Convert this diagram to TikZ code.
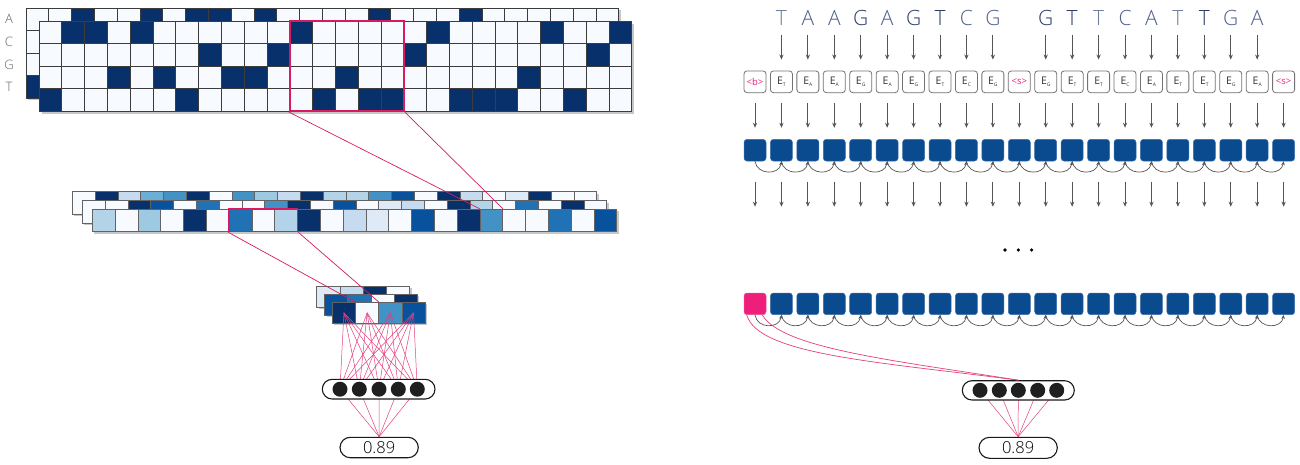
\documentclass[tikz,border=0pt]{standalone}
\usepackage{fontspec}
\setmainfont{Open Sans}
\newfontfamily\lightfont{Open Sans Light}
\usetikzlibrary{arrows.meta}
\definecolor{cN}{HTML}{08306B}
\definecolor{cD}{HTML}{08519C}
\definecolor{cM}{HTML}{2171B5}
\definecolor{cm}{HTML}{4292C6}
\definecolor{cl}{HTML}{6BAED6}
\definecolor{cL2}{HTML}{9ECAE1}
\definecolor{cLb}{HTML}{B3D3E8}
\definecolor{cL}{HTML}{C6DBEF}
\definecolor{cV}{HTML}{DEEBF7}
\definecolor{cW}{HTML}{F7FBFF}
\definecolor{redbox}{HTML}{D81B60}
\definecolor{pinkl}{HTML}{E4407F}
\definecolor{pinkbox}{HTML}{EE1F7A}
\definecolor{hblue}{HTML}{0A4A8F}
\definecolor{hborder}{HTML}{3D6FAA}
\definecolor{arrgray}{HTML}{555555}
\definecolor{lL}{HTML}{6F7D9C}
\definecolor{lM}{HTML}{52618C}
\definecolor{lD}{HTML}{2D3C68}
\definecolor{gridl}{HTML}{3C3C3C}
\newcommand\tokE[1]{{\fontsize{10.5}{10.5}\selectfont E}\raisebox{-2pt}{\fontsize{5}{5}\selectfont #1}}
\tikzset{
  shadowc/.style={fill=black!22},
  cellline/.style={draw=gridl!80, line width=0.6},
  arr/.style={draw=arrgray, line width=0.8, -{Stealth[length=5pt,width=4.2pt]}},
  arcarr/.style={draw=arrgray, line width=0.7, -{Stealth[length=4pt,width=3.6pt]}},
  tokbox/.style={draw=black!55, line width=0.8, fill=white, rounded corners=3pt, minimum width=22pt, minimum height=21.7pt, inner sep=0pt},
  hbox/.style={draw=hborder, line width=0.5, fill=hblue, rounded corners=3pt, minimum width=22pt, minimum height=21.7pt, inner sep=0pt},
  letter/.style={anchor=base, inner sep=0pt, font=\lightfont\fontsize{21}{21}\selectfont},
  capsule/.style={draw=black!90, line width=1.1, fill=white, inner sep=0pt},
  neuron/.style={circle, fill=black!88, minimum size=15pt, inner sep=0pt},
  pinkthin/.style={draw=pinkl, line width=0.5},
  redline/.style={draw=redbox, line width=0.7},
}
\begin{document}
\begin{tikzpicture}[x=1pt,y=-1pt]
\useasboundingbox (0,0) rectangle (1300,464);
\fill[white] (0,0) rectangle (1300,464);

% ---------- big one-hot grid: back layer ----------
\fill[shadowc] (28,10) rectangle ++(592.8,90);
\fill[cW] (26,8) rectangle ++(592.8,90);
\foreach \r/\c in {0/2,0/5,0/7,0/8,0/10,0/15,0/19,3/0}
  \fill[cN] ({26+\c*22.8},{8+\r*22.5}) rectangle ++(22.8,22.5);
\foreach \i in {0,...,26} \draw[gridl, line width=0.7] ({26+\i*22.8},8) -- ++(0,90);
\foreach \j in {0,...,4} \draw[gridl, line width=0.7] (26,{8+\j*22.5}) -- ++(592.8,0);
% front layer
\fill[shadowc] (41.5,23.5) rectangle ++(592.8,90);
\fill[cW] (39,21) rectangle ++(592.8,90);
\foreach \r/\c in {0/1,0/2,0/4,0/11,0/17,0/22,0/25,1/7,1/10,1/16,1/24,2/3,2/5,2/8,2/9,2/13,2/21,3/0,3/6,3/12,3/14,3/15,3/18,3/19,3/20,3/23}
  \fill[cN] ({39+\c*22.8},{21+\r*22.5}) rectangle ++(22.8,22.5);
\foreach \i in {0,...,26} \draw[gridl, line width=0.8] ({39+\i*22.8},21) -- ++(0,90);
\foreach \j in {0,...,4} \draw[gridl, line width=0.8] (39,{21+\j*22.5}) -- ++(592.8,0);
% row labels
\foreach \t/\yy [count=\k] in {A/19,C/42,G/64.5,T/87}
  \node[text=black!60, font=\lightfont\fontsize{13}{13}\selectfont, inner sep=0pt] (rl\k) at (9,\yy) {\t};
% red window
\node[draw=redbox, line width=2, minimum width=114pt, minimum height=90pt, inner sep=0pt] (win1) at (346.8,66) {};

% ---------- middle layer (3 rows) ----------
\fill[shadowc] (74.3,193.7) rectangle ++(524.4,22.5);
\foreach \c [count=\k from 0] in {cW,cN,cL,cl,cm,cN,cW,cm,cL2,cL,cN,cLb,cLb,cm,cD,cW,cN,cL,cW,cV,cN,cW,cW}
  \draw[cellline, fill=\c] ({72.3+\k*22.8},191.7) rectangle ++(22.8,22.5);
\fill[shadowc] (84.3,202.5) rectangle ++(524.4,22.5);
\foreach \c [count=\k from 0] in {cW,cW,cN,cD,cW,cM,cW,cW,cm,cN,cW,cD,cW,cV,cL,cW,cN,cLb,cW,cM,cW,cN,cW}
  \draw[cellline, fill=\c] ({82.3+\k*22.8},200.5) rectangle ++(22.8,22.5);
\fill[shadowc] (94.3,211) rectangle ++(524.4,22.5);
\foreach \c [count=\k from 0] in {cLb,cW,cL2,cW,cN,cW,cM,cW,cLb,cN,cW,cL,cV,cW,cD,cW,cN,cm,cW,cW,cM,cW,cD}
  \draw[cellline, fill=\c] ({92.3+\k*22.8},209) rectangle ++(22.8,22.5);
\node[inner sep=0pt, minimum width=22.8pt, minimum height=22.5pt] (tgt1) at ({92.3+17.5*22.8},220.25) {};
\draw[redline] (win1.south west) -- (tgt1.north west);
\draw[redline] (win1.south east) -- (tgt1.north east);
\node[draw=redbox, line width=1.6, minimum width=68.4pt, minimum height=22.5pt, inner sep=0pt] (win2) at (263.3,220.25) {};

% ---------- small layer ----------
\fill[shadowc] (318.7,288) rectangle ++(92.8,21);
\foreach \c [count=\k from 0] in {cV,cL,cN,cW}
  \draw[cellline, fill=\c] ({316.7+\k*23.2},286) rectangle ++(23.2,21);
\fill[shadowc] (326.5,296) rectangle ++(92.8,21);
\foreach \c [count=\k from 0] in {cD,cM,cW,cN}
  \draw[cellline, fill=\c] ({324.5+\k*23.2},294) rectangle ++(23.2,21);
\fill[shadowc] (334.3,304.3) rectangle ++(92.8,21);
\foreach \c [count=\k from 0] in {cN,cW,cm,cD}
  \node[draw=gridl!80, line width=0.6, fill=\c, inner sep=0pt, minimum width=23.2pt, minimum height=21pt] (s\k) at ({332.3+(\k+0.5)*23.2},312.8) {};
\node[inner sep=0pt, minimum width=23.2pt, minimum height=21pt] (tgt2) at ({332.3+1.5*23.2},312.8) {};
\draw[redline] (win2.south west) -- (tgt2.north west);
\draw[redline] (win2.south east) -- (tgt2.north east);

% ---------- left dense layer ----------
\foreach \xx [count=\j] in {340,359.3,379,398.3,417.3}
  \coordinate (p1-\j) at (\xx,389.2);
\node[capsule, minimum width=78.3pt, minimum height=20.4pt, rounded corners=10.2pt, font=\lightfont\fontsize{16.5}{16.5}\selectfont] (out1) at (379.15,447.5) {0.89};
\foreach \k in {0,...,3}
  \foreach \j in {1,...,5}
    \draw[pinkthin] (s\k.center) -- (p1-\j);
\foreach \j in {1,...,5}
  \draw[pinkthin] (p1-\j) -- (out1.north);
\node[capsule, minimum width=112.7pt, minimum height=19.7pt, rounded corners=9.85pt] (cap1) at (378.65,389.15) {};
\foreach \j in {1,...,5}
  \node[neuron] (n1-\j) at (p1-\j) {};

% ---------- right: sequence ----------
\foreach \t/\i/\lc in {T/1/lL,A/2/lM,A/3/lM,G/4/lD,A/5/lM,G/6/lD,T/7/lD,C/8/lM,G/9/lM,G/11/lD,T/12/lD,T/13/lL,C/14/lM,A/15/lM,T/16/lL,T/17/lD,G/18/lM,A/19/lM}{
  \node[letter, text=\lc] (l\i) at ({755+\i*26.43},25) {\t};
  \node[tokbox, text=black!80] (tok\i) at ({755+\i*26.43},81.8) {\tokE{\t}};
  \draw[arr, shorten <=10pt, shorten >=11pt] (l\i.base) -- (tok\i.north);
}
\foreach \i/\t in {0/b,10/s,20/s}
  \node[tokbox, text=pinkbox, font=\fontsize{9.5}{9.5}\selectfont] (tok\i) at ({755+\i*26.43},81.8) {<\t>};
\foreach \i in {0,...,20}{
  \node[hbox] (h\i) at ({755+\i*26.43},150.2) {};
  \draw[arr, shorten <=10.35pt, shorten >=11.35pt] (tok\i.south) -- (h\i.north);
  \coordinate (d\i) at ({755+\i*26.43},206.7);
  \draw[arr, shorten <=20.6pt] (h\i.south) -- (d\i);
}
\foreach \i [evaluate=\i as \j using int(\i+1)] in {0,...,19}
  \draw[arcarr] (h\i.south) .. controls +(2,14) and +(-2,14) .. (h\j.south);

% dots
\foreach \xx [count=\k] in {1005,1018.3,1031.6}
  \fill[black] (\xx,250) circle (1.8) coordinate (dot\k);

% bottom row
\node[hbox, fill=pinkbox, draw=pinkbox!80!white] (g0) at (755,303.85) {};
\foreach \i in {1,...,20}
  \node[hbox] (g\i) at ({755+\i*26.43},303.85) {};
\foreach \i [evaluate=\i as \j using int(\i+1)] in {0,...,19}
  \draw[arcarr] (g\i.south) .. controls +(2,14) and +(-2,14) .. (g\j.south);

% ---------- right dense layer ----------
\foreach \xx [count=\j] in {980,999.3,1018.3,1037.7,1056.7}
  \coordinate (p2-\j) at (\xx,390.3);
\node[capsule, minimum width=78.3pt, minimum height=21pt, rounded corners=10.5pt, font=\lightfont\fontsize{16.5}{16.5}\selectfont] (out2) at (1018.15,447.8) {0.89};
\foreach \j in {1,...,5}
  \draw[pinkthin] (p2-\j) -- (out2.north);
\node[capsule, minimum width=112pt, minimum height=19.3pt, rounded corners=9.65pt] (cap2) at (1018.3,390.35) {};
\draw[pinkthin, line width=0.7] ([xshift=3pt]g0.south west) .. controls (758,355) and (880,362) .. (cap2.north);
\draw[pinkthin, line width=0.7] ([xshift=-4pt]g0.south east) .. controls (782,348) and (890,360) .. (cap2.north);
\foreach \j in {1,...,5}
  \node[neuron] (n2-\j) at (p2-\j) {};
\end{tikzpicture}
\end{document}
